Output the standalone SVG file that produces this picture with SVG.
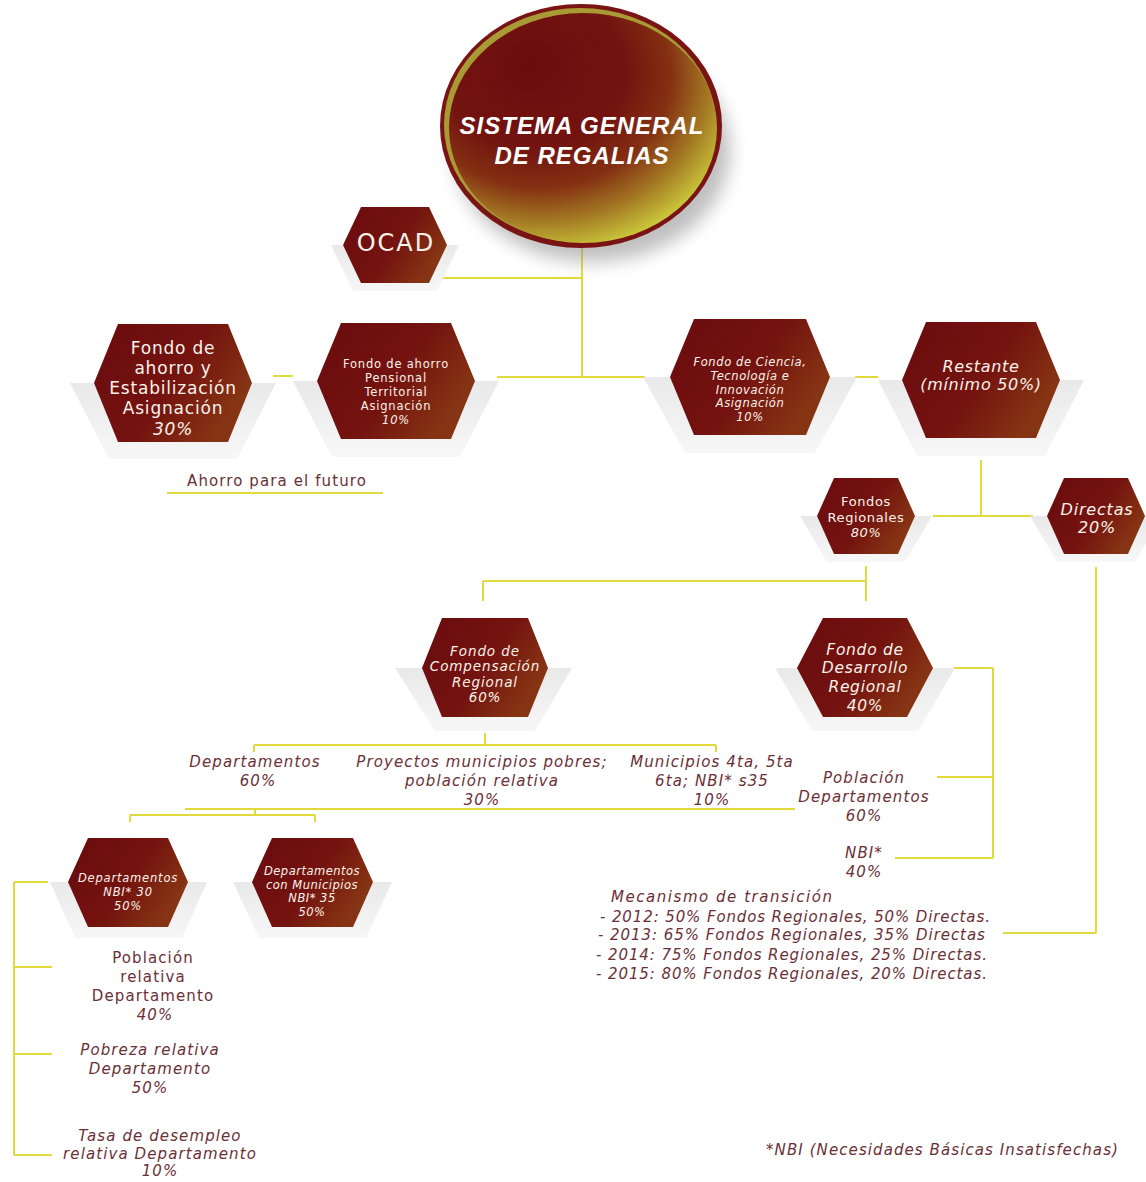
<svg xmlns="http://www.w3.org/2000/svg" width="1146" height="1182" viewBox="0 0 1146 1182">
<defs>
<linearGradient id="hexGrad" x1="0" y1="0" x2="1" y2="0.5">
<stop offset="0" stop-color="#6a0b0e"/>
<stop offset="0.6" stop-color="#74130f"/>
<stop offset="1" stop-color="#863514"/>
</linearGradient>
<linearGradient id="shGrad" x1="0" y1="0" x2="0" y2="1">
<stop offset="0" stop-color="#e9e9e9"/>
<stop offset="1" stop-color="#f7f7f7"/>
</linearGradient>
<radialGradient id="ellGrad" cx="0.36" cy="0.3" r="0.85" fx="0.3" fy="0.22">
<stop offset="0" stop-color="#6c0b0e"/>
<stop offset="0.4" stop-color="#731410"/>
<stop offset="0.58" stop-color="#843012"/>
<stop offset="0.74" stop-color="#a47a24"/>
<stop offset="0.88" stop-color="#c9c43a"/>
<stop offset="1" stop-color="#dadf46"/>
</radialGradient>
<filter id="blur" x="-30%" y="-30%" width="160%" height="160%">
<feGaussianBlur stdDeviation="9"/>
</filter>
<style>
.hx{fill:url(#hexGrad);}
.sh{fill:url(#shGrad);}
.ht{font-family:"DejaVu Sans",sans-serif;fill:#fbf2ea;text-anchor:middle;}
.lbl{font-family:"DejaVu Sans",sans-serif;fill:#6b2f35;text-anchor:middle;font-size:15px;letter-spacing:1.1px;}
.st{text-anchor:start;}
.it{font-style:italic;}
.conn line{stroke:#e2da3c;stroke-width:2;fill:none;}
</style>
</defs>
<rect width="1146" height="1182" fill="#ffffff"/>

<g id="connectors" class="conn">
<line x1="582" y1="248" x2="582" y2="377"/>
<line x1="443" y1="278" x2="582" y2="278"/>
<line x1="497" y1="377" x2="645" y2="377"/>
<line x1="273" y1="376" x2="293" y2="376"/>
<line x1="855" y1="377" x2="878" y2="377"/>
<line x1="981" y1="460" x2="981" y2="516"/>
<line x1="933" y1="516" x2="1033" y2="516"/>
<line x1="866" y1="566" x2="866" y2="601"/>
<line x1="483" y1="581" x2="866" y2="581"/>
<line x1="483" y1="581" x2="483" y2="601"/>
<line x1="485" y1="733" x2="485" y2="745"/>
<line x1="254" y1="745" x2="716" y2="745"/>
<line x1="254" y1="745" x2="254" y2="752"/>
<line x1="716" y1="745" x2="716" y2="752"/>
<line x1="185" y1="809" x2="795" y2="809"/>
<line x1="255" y1="809" x2="255" y2="815"/>
<line x1="130" y1="815" x2="315" y2="815"/>
<line x1="130" y1="815" x2="130" y2="822"/>
<line x1="315" y1="815" x2="315" y2="822"/>
<line x1="953" y1="668" x2="993" y2="668"/>
<line x1="993" y1="668" x2="993" y2="858"/>
<line x1="937" y1="777" x2="993" y2="777"/>
<line x1="895" y1="858" x2="993" y2="858"/>
<line x1="1096" y1="567" x2="1096" y2="933"/>
<line x1="1003" y1="933" x2="1096" y2="933"/>
<line x1="14" y1="882" x2="14" y2="1155"/>
<line x1="14" y1="882" x2="48" y2="882"/>
<line x1="14" y1="967" x2="52" y2="967"/>
<line x1="14" y1="1054" x2="52" y2="1054"/>
<line x1="14" y1="1155" x2="52" y2="1155"/>
<line x1="167" y1="493" x2="383" y2="493"/>
</g>

<g id="sistema-general">
<ellipse cx="592" cy="150" rx="138" ry="112" fill="#8a8a8a" opacity="0.55" filter="url(#blur)"/>
<ellipse cx="581" cy="126" rx="141" ry="122" fill="#7a1414"/>
<ellipse cx="580" cy="125" rx="136" ry="117" fill="#a89a34"/>
<ellipse cx="583" cy="128" rx="134" ry="115" fill="url(#ellGrad)"/>
<text x="582" y="134" font-family="Liberation Sans, Arial, sans-serif" font-weight="bold" font-style="italic" font-size="24" letter-spacing="1" fill="#ffffff" text-anchor="middle">SISTEMA GENERAL</text>
<text x="582" y="164" font-family="Liberation Sans, Arial, sans-serif" font-weight="bold" font-style="italic" font-size="24" letter-spacing="1" fill="#ffffff" text-anchor="middle">DE REGALIAS</text>
</g>

<g id="ocad">
<polygon class="sh" points="331,245 459,245 437,291 353,291"/>
<polygon class="hx" points="343,245 361,207 429,207 447,245 429,283 361,283"/>
<text class="ht" x="396" y="251" font-size="24" letter-spacing="2">OCAD</text>
</g>

<g id="fondo-ahorro-estabilizacion">
<polygon class="sh" points="70,383 276,383 237,459 109,459"/>
<polygon class="hx" points="94,383 118,324 228,324 252,383 228,442 118,442"/>
<g class="ht" font-size="17" letter-spacing="0.8">
<text x="173" y="354">Fondo de</text>
<text x="173" y="374">ahorro y</text>
<text x="173" y="394">Estabilización</text>
<text x="173" y="414">Asignación</text>
<text x="173" y="435" font-style="italic">30%</text>
</g>
</g>

<g id="fondo-ahorro-pensional">
<polygon class="sh" points="293,381 499,381 460,457 332,457"/>
<polygon class="hx" points="317,381 341,323 451,323 475,381 451,439 341,439"/>
<g class="ht" font-size="11.5" letter-spacing="0.8">
<text x="396" y="368">Fondo de ahorro</text>
<text x="396" y="382">Pensional</text>
<text x="396" y="396">Territorial</text>
<text x="396" y="410">Asignación</text>
<text x="396" y="424" font-style="italic">10%</text>
</g>
</g>

<g id="ahorro-futuro">
<text class="lbl" x="277" y="486" letter-spacing="1.2">Ahorro para el futuro</text>
</g>

<g id="fondo-ciencia">
<polygon class="sh" points="643,377 857,377 815,453 685,453"/>
<polygon class="hx" points="670,377 694,319 806,319 830,377 806,435 694,435"/>
<g class="ht it" font-size="11.5" letter-spacing="0.6">
<text x="750" y="366">Fondo de Ciencia,</text>
<text x="750" y="380">Tecnología e</text>
<text x="750" y="394">Innovación</text>
<text x="750" y="407">Asignación</text>
<text x="750" y="421">10%</text>
</g>
</g>

<g id="restante">
<polygon class="sh" points="878,380 1084,380 1045,456 917,456"/>
<polygon class="hx" points="902,380 926,322 1036,322 1060,380 1036,438 926,438"/>
<g class="ht it" font-size="16" letter-spacing="0.7">
<text x="981" y="372">Restante</text>
<text x="981" y="390">(mínimo 50%)</text>
</g>
</g>

<g id="fondos-regionales">
<polygon class="sh" points="800,516 932,516 905,562 827,562"/>
<polygon class="hx" points="817,516 834,478 898,478 915,516 898,554 834,554"/>
<g class="ht" font-size="13" letter-spacing="0.6">
<text x="866" y="506">Fondos</text>
<text x="866" y="522">Regionales</text>
<text x="866" y="537" font-style="italic">80%</text>
</g>
</g>

<g id="directas">
<polygon class="sh" points="1030,516 1162,516 1135,562 1057,562"/>
<polygon class="hx" points="1047,516 1064,478 1128,478 1145,516 1128,554 1064,554"/>
<g class="ht it" font-size="16" letter-spacing="0.8">
<text x="1097" y="515">Directas</text>
<text x="1097" y="533">20%</text>
</g>
</g>

<g id="fondo-compensacion">
<polygon class="sh" points="395,668 572,668 535,731 435,731"/>
<polygon class="hx" points="422,668 442,618 528,618 548,668 528,717 442,717"/>
<g class="ht it" font-size="13.5" letter-spacing="0.9">
<text x="485" y="656">Fondo de</text>
<text x="485" y="671">Compensación</text>
<text x="485" y="687">Regional</text>
<text x="485" y="702">60%</text>
</g>
</g>

<g id="fondo-desarrollo">
<polygon class="sh" points="775,668 955,668 918,731 812,731"/>
<polygon class="hx" points="797,668 823,618 907,618 933,668 907,717 823,717"/>
<g class="ht it" font-size="15.5" letter-spacing="0.7">
<text x="865" y="655">Fondo de</text>
<text x="865" y="673">Desarrollo</text>
<text x="865" y="692">Regional</text>
<text x="865" y="711">40%</text>
</g>
</g>

<g id="cr-departamentos">
<text class="lbl it" x="255" y="767">Departamentos</text>
<text class="lbl it" x="258" y="786">60%</text>
</g>
<g id="cr-proyectos">
<text class="lbl it" x="482" y="767">Proyectos municipios pobres;</text>
<text class="lbl it" x="482" y="786">población relativa</text>
<text class="lbl it" x="482" y="805">30%</text>
</g>
<g id="cr-municipios">
<text class="lbl it" x="712" y="767">Municipios 4ta, 5ta</text>
<text class="lbl it" x="712" y="786">6ta; NBI* s35</text>
<text class="lbl it" x="712" y="805">10%</text>
</g>

<g id="dr-poblacion">
<text class="lbl it" x="864" y="783">Población</text>
<text class="lbl it" x="864" y="802">Departamentos</text>
<text class="lbl it" x="864" y="821">60%</text>
</g>
<g id="dr-nbi">
<text class="lbl it" x="864" y="858">NBI*</text>
<text class="lbl it" x="864" y="877">40%</text>
</g>

<g id="departamentos-nbi30">
<polygon class="sh" points="50,882 207,882 182,938 75,938"/>
<polygon class="hx" points="68,882 88,838 168,838 188,882 168,927 88,927"/>
<g class="ht it" font-size="11.5" letter-spacing="0.8">
<text x="128" y="882">Departamentos</text>
<text x="128" y="896">NBI*  30</text>
<text x="128" y="910">50%</text>
</g>
</g>

<g id="departamentos-municipios-nbi35">
<polygon class="sh" points="233,882 392,882 366,938 259,938"/>
<polygon class="hx" points="252,882 272,838 353,838 373,882 353,927 272,927"/>
<g class="ht it" font-size="11.5" letter-spacing="0.5">
<text x="312" y="875">Departamentos</text>
<text x="312" y="889">con Municipios</text>
<text x="312" y="902">NBI* 35</text>
<text x="312" y="916">50%</text>
</g>
</g>

<g id="poblacion-relativa">
<text class="lbl" x="153" y="963">Población</text>
<text class="lbl" x="153" y="982">relativa</text>
<text class="lbl" x="153" y="1001">Departamento</text>
<text class="lbl it" x="155" y="1020">40%</text>
</g>
<g id="pobreza-relativa">
<text class="lbl it" x="150" y="1055">Pobreza relativa</text>
<text class="lbl it" x="150" y="1074">Departamento</text>
<text class="lbl it" x="150" y="1093">50%</text>
</g>
<g id="tasa-desempleo">
<text class="lbl it" x="160" y="1141">Tasa de desempleo</text>
<text class="lbl it" x="160" y="1159">relativa Departamento</text>
<text class="lbl it" x="160" y="1176">10%</text>
</g>

<g id="mecanismo-transicion">
<text class="lbl it st" x="611" y="902" textLength="222" lengthAdjust="spacing">Mecanismo de transición</text>
<text class="lbl it st" x="600" y="922" textLength="391" lengthAdjust="spacing">- 2012: 50% Fondos Regionales, 50% Directas.</text>
<text class="lbl it st" x="598" y="940" textLength="388" lengthAdjust="spacing">- 2013: 65% Fondos Regionales, 35% Directas</text>
<text class="lbl it st" x="596" y="960" textLength="392" lengthAdjust="spacing">- 2014: 75% Fondos Regionales, 25% Directas.</text>
<text class="lbl it st" x="596" y="979" textLength="392" lengthAdjust="spacing">- 2015: 80% Fondos Regionales, 20% Directas.</text>
</g>

<g id="nota-nbi">
<text class="lbl it st" x="766" y="1155" textLength="353" lengthAdjust="spacing">*NBI (Necesidades Básicas Insatisfechas)</text>
</g>
</svg>
